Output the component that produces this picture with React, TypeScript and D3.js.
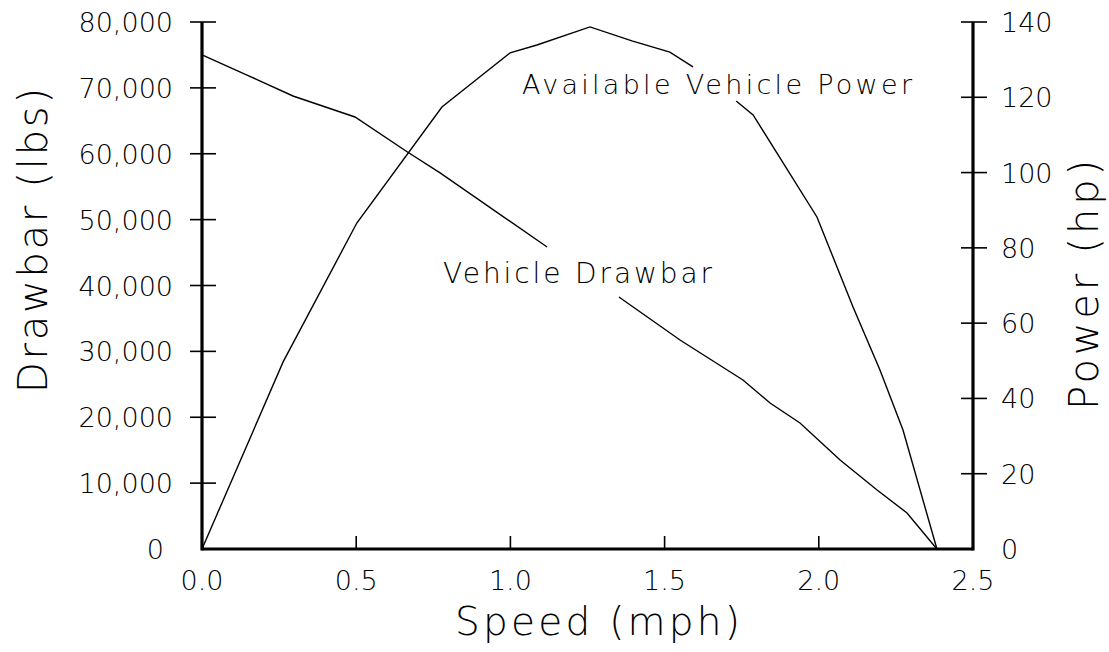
import React from "react";
import * as d3 from "d3";

const W = 1109;
const H = 652;

// Speed (mph), Drawbar (lbs) — split in two parts around the label
const drawbarPart1: [number, number][] = [
  [0, 75000], [0.146, 71950], [0.295, 68770], [0.496, 65580],
  [0.665, 60300], [0.772, 57100], [1.119, 45840],
];
const drawbarPart2: [number, number][] = [
  [1.352, 38250], [1.55, 31730], [1.754, 25650], [1.842, 22160],
  [1.939, 19130], [2.069, 13510], [2.189, 8960], [2.286, 5470], [2.383, 0],
];
// Speed (mph), Power (hp) — split in two parts around the label
const powerPart1: [number, number][] = [
  [0, 0], [0.263, 49.7], [0.502, 86.6], [0.778, 117.4], [0.999, 131.8],
  [1.086, 133.9], [1.258, 138.7], [1.394, 135], [1.517, 132], [1.592, 128.1],
];
const powerPart2: [number, number][] = [
  [1.732, 119.0], [1.787, 115.3], [1.994, 88.2], [2.111, 64.3],
  [2.198, 47.6], [2.273, 31.6], [2.383, 0],
];

const xTicks = [0, 0.5, 1.0, 1.5, 2.0, 2.5];
const leftTicks = [0, 10000, 20000, 30000, 40000, 50000, 60000, 70000, 80000];
const rightTicks = [0, 20, 40, 60, 80, 100, 120, 140];

const FONT = "'DejaVu Sans', sans-serif";

export default function App() {
  const x0 = 202, x1 = 973, yB = 549, yT = 22;
  const x = d3.scaleLinear().domain([0, 2.5]).range([x0, x1]);
  const yL = d3.scaleLinear().domain([0, 80000]).range([yB, yT]);
  const yR = d3.scaleLinear().domain([0, 140]).range([yB, yT]);

  const lineL = d3.line<[number, number]>().x(d => x(d[0])).y(d => yL(d[1]));
  const lineR = d3.line<[number, number]>().x(d => x(d[0])).y(d => yR(d[1]));
  const fmt = d3.format(",");

  const txt = { fontFamily: FONT, fontWeight: 200 as any, fill: "#000" };

  return (
    <svg width={W} height={H} style={{ position: "absolute", left: 0, top: 0, background: "#fff" }}>
      <rect width={W} height={H} fill="#fff" />
      {/* data lines */}
      <g fill="none" stroke="#000" strokeWidth={1.4}>
        <path d={lineL(drawbarPart1) || ""} />
        <path d={lineL(drawbarPart2) || ""} />
        <path d={lineR(powerPart1) || ""} />
        <path d={lineR(powerPart2) || ""} />
      </g>
      {/* axes */}
      <g stroke="#000" strokeWidth={3.2} fill="none">
        <line x1={x0} y1={yT} x2={x0} y2={yB + 1.5} />
        <line x1={x1} y1={yT} x2={x1} y2={yB + 1.5} />
        <line x1={x0} y1={yB} x2={x1} y2={yB} />
      </g>
      <g stroke="#000" strokeWidth={1.6}>
        {leftTicks.slice(1).map(t => (
          <line key={"l" + t} x1={x0 - 12} x2={x0 + 14} y1={yL(t)} y2={yL(t)} />
        ))}
        {rightTicks.slice(1).map(t => (
          <line key={"r" + t} x1={x1 - 12} x2={x1 + 14} y1={yR(t)} y2={yR(t)} />
        ))}
        {xTicks.slice(1, -1).map(t => (
          <line key={"b" + t} x1={x(t)} x2={x(t)} y1={yB} y2={yB - 13} />
        ))}
      </g>
      {/* tick labels */}
      <g {...txt} fontSize={27}>
        {leftTicks.map(t => (
          <text key={"lt" + t} x={t === 0 ? 164 : 173} y={yL(t) + 10} textAnchor="end">{fmt(t)}</text>
        ))}
        {rightTicks.map(t => (
          <text key={"rt" + t} x={1001} y={yR(t) + 10} textAnchor="start">{t}</text>
        ))}
        {xTicks.map(t => (
          <text key={"bt" + t} x={x(t)} y={590} textAnchor="middle">{t.toFixed(1)}</text>
        ))}
      </g>
      {/* series labels */}
      <text {...txt} fontSize={27} x={522} y={94} textLength={390} lengthAdjust="spacing">Available Vehicle Power</text>
      <text {...txt} fontSize={28} x={443} y={283} textLength={269} lengthAdjust="spacing">Vehicle Drawbar</text>
      {/* axis titles */}
      <text {...txt} fontSize={39} x={455} y={635} textLength={285} lengthAdjust="spacing">Speed (mph)</text>
      <text {...txt} fontSize={40} transform="translate(47,393) rotate(-90)" x={0} y={0} textLength={305} lengthAdjust="spacing">Drawbar (lbs)</text>
      <text {...txt} fontSize={40} transform="translate(1098,410) rotate(-90)" x={0} y={0} textLength={250} lengthAdjust="spacing">Power (hp)</text>
    </svg>
  );
}
